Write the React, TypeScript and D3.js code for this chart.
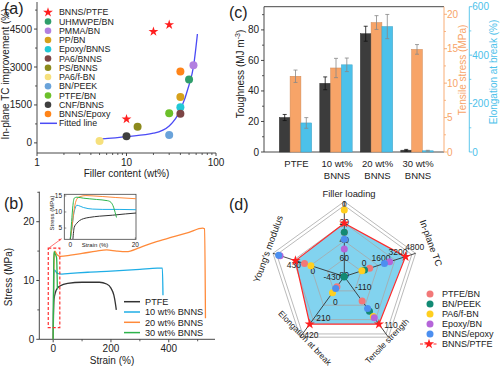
import { useEffect, useRef } from "react";
import * as d3 from "d3";

const FONT = "'Liberation Sans', Arial, Helvetica, sans-serif";
const INK = "#222";

// ---------- (a) in-plane TC improvement vs filler content
const starFiller = [10, 20, 30];
const starTC = [940, 4400, 4670];
const dotNames = ["UHMWPE/BN", "PMMA/BN", "PP/BN", "Epoxy/BNNS", "PA6/BNNS", "PS/BNNS", "PA6/f-BN", "BN/PEEK", "PTFE/BN", "CNF/BNNS", "BNNS/Epoxy"];
const dotColors = ["#2f9e6b", "#b27fe0", "#d6a11c", "#22c8d6", "#7d4545", "#8c8a1c", "#f6e07c", "#6aa3da", "#6cc02a", "#3f3f3f", "#ff8419"];
const dotFiller = [50, 56, 40, 40, 40, 13.3, 5, 30, 30, 10, 40];
const dotTC = [2510, 3070, 1810, 1410, 1150, 640, 70, 310, 1170, 260, 2820];
const fitFiller = [5, 10, 20, 30, 40, 50, 56, 62];
const fitTC = [145, 250, 382, 671, 1303, 2290, 3012, 4303];
const tcTicks = [0, 1500, 3000, 4500];
const fillerTicks = [1, 10, 100];

// ---------- (b) stress-strain curves
const curveNames = ["PTFE", "10 wt% BNNS", "20 wt% BNNS", "30 wt% BNNS"];
const curveColors = ["#333333", "#1faee6", "#ff8a3a", "#2db34b"];
const ptfeStrain = [0, 1, 3, 8, 15, 25, 50, 100, 160, 185, 200, 210, 215, 218.5];
const ptfeStress = [0, 4, 6.8, 8, 8.7, 9.1, 9.5, 9.7, 9.7, 9.4, 8.7, 7.5, 6.2, 5];
const b10Strain = [0, 1, 2, 4, 8, 15, 30, 60, 120, 200, 300, 360, 378, 380];
const b10Stress = [0, 6, 10, 11.8, 11.6, 11.2, 11.1, 11.2, 11.4, 11.6, 11.9, 12.1, 12.1, 7.5];
const b20Strain = [0, 1, 2, 4, 6, 12, 25, 60, 100, 150, 185, 220, 253, 300, 350, 414, 470, 517, 524, 527];
const b20Stress = [0, 5, 10, 14.5, 15, 14.5, 14.1, 14.3, 14.6, 15, 15.2, 15, 14.9, 15.6, 16.5, 17.4, 18.2, 18.9, 18.8, 3.6];
const b30Strain = [0, 1, 2, 3, 6, 10, 12, 13.2, 14, 14.5];
const b30Stress = [0, 7, 13, 14.9, 14.6, 14.2, 13.8, 12, 10, 8.5];
// inset (0-20 % strain)
const inPtfeStrain = [0.8, 1.2, 2, 2.8, 4, 5.8, 9, 13, 17, 20.5];
const inPtfeStress = [1.6, 5.2, 6.5, 7.3, 7.9, 8.3, 8.7, 9.0, 9.4, 9.7];
const in10Strain = [0, 0.5, 1, 1.5, 2, 2.5, 4, 6.9, 10, 15, 20.5];
const in10Stress = [1.6, 5, 9, 11.2, 12.1, 12, 11.4, 10.9, 10.8, 10.8, 10.7];
const in20Strain = [0, 0.5, 1, 1.5, 2, 3, 4.8, 7, 10, 14, 20.5];
const in20Stress = [1.6, 5, 9.5, 12.5, 14, 14.8, 15.1, 15, 14.8, 14.5, 14.1];
const in30Strain = [0, 0.4, 0.8, 1.2, 2, 4, 8, 11.5, 12.5, 13.3, 13.8, 14.2];
const in30Stress = [1.6, 7, 12, 14.3, 14.6, 14.3, 13.9, 13.5, 13, 11.5, 9.8, 8.3];

// ---------- (c) bars
const groups = ["PTFE", "10 wt%|BNNS", "20 wt%|BNNS", "30 wt%|BNNS"];
const toughness = [22.6, 45, 77.5, 1.2];
const toughErr = [2, 4.2, 4.9, 0.5];
const tensile = [11, 12.2, 18.8, 14.9];
const tensileErr = [0.9, 1.4, 1, 0.7];
const elongation = [120, 360, 518, 5];
const elongErr = [22, 28, 50, 2];

// ---------- (d) radar
const radarAxes = ["Filler loading", "In-plane TC", "Tensile strength", "Elongation at break", "Young's modulus"];
const radarLo = [80, -1600, -220, -260, -650];
const radarHi = [0, 4800, 110, 470, 870];
const radarTicks = [[0, 20, 40, 60, 80], [0, 1600, 3200, 4800], [-110, 0, 110], [0, 210, 420], [-430, 0, 430]];
const radarNames = ["PTFE/BN", "BN/PEEK", "PA6/f-BN", "Epoxy/BN", "BNNS/epoxy"];
const radarColors = ["#f27878", "#128a74", "#ffcf1f", "#b565d9", "#4c8ff0"];
const ptfeBN = [30, 800, -79, -131, 245];
const bnPEEK = [30, 316, -21, -255, -650];
const pa6fBN = [5, 67, 10, -54, 102];
const epoxyBN = [49, 2693, 17, null, 796];
const bnnsEpoxy = [38, 2204, -36, -109, 828];
const bnnsPTFE = [20, 4204, 54, 345, 450];

type Sel = d3.Selection<SVGGElement, unknown, null, undefined>;

// rough Arial advance widths, used to right-align labels without text-anchor
const textWidth = (s: string, fs: number) =>
  s.split("").reduce((w, ch) => w + (ch === "-" ? 0.333 : 0.556), 0) * fs;

// vertical axis drawn by hand: side -1 = ticks/labels to the left, 1 = to the right
function vAxis(g: Sel, s: d3.ScaleLinear<number, number>, x: number, majors: number[], minors: number[], side: number,
  color = "#333", fs = 10, pad = 2) {
  const [r0, r1] = s.range();
  g.append("line").attr("x1", x).attr("x2", x).attr("y1", r0).attr("y2", r1).attr("stroke", color).attr("stroke-width", 0.9);
  majors.forEach(v => {
    const label = String(v);
    const lx = side < 0 ? x - 3 - pad - textWidth(label, fs) : x + 3 + pad;
    g.append("line").attr("x1", x).attr("x2", x + side * 3).attr("y1", s(v)).attr("y2", s(v)).attr("stroke", color).attr("stroke-width", 0.9);
    g.append("text").attr("x", lx).attr("y", s(v) + fs * 0.35).attr("font-size", fs)
      .attr("fill", color === "#333" ? INK : color).text(label);
  });
  minors.forEach(v => {
    g.append("line").attr("x1", x).attr("x2", x + side * 2).attr("y1", s(v)).attr("y2", s(v)).attr("stroke", color).attr("stroke-width", 0.8);
  });
}
function hAxis(g: Sel, s: any, y: number, majors: number[], minors: number[], fs = 10) {
  const [r0, r1] = s.range();
  g.append("line").attr("x1", r0).attr("x2", r1).attr("y1", y).attr("y2", y).attr("stroke", "#333").attr("stroke-width", 0.9);
  majors.forEach(v => {
    g.append("line").attr("x1", s(v)).attr("x2", s(v)).attr("y1", y).attr("y2", y + 3).attr("stroke", "#333").attr("stroke-width", 0.9);
    g.append("text").attr("x", s(v)).attr("y", y + 5.5 + fs * 0.72).attr("text-anchor", "middle")
      .attr("font-size", fs).attr("fill", INK).text(String(v));
  });
  minors.forEach(v => {
    g.append("line").attr("x1", s(v)).attr("x2", s(v)).attr("y1", y).attr("y2", y + 2).attr("stroke", "#333").attr("stroke-width", 0.8);
  });
}

function drawA(svg: Sel) {
  const g = svg.append("g");
  const x = d3.scaleLog().domain([1, 100]).range([37, 216]);
  const y = d3.scaleLinear().domain([-400, 5570]).range([153, 2]);

  hAxis(g, x, 153, fillerTicks, [2, 3, 4, 5, 6, 7, 8, 9, 20, 30, 40, 50, 60, 70, 80, 90]);
  vAxis(g, y, 37, tcTicks, [750, 2250, 3750, 5250], -1);

  g.append("text").attr("x", 126.5).attr("y", 177).attr("text-anchor", "middle")
    .attr("font-size", 10).attr("fill", INK).text("Filler content (wt%)");
  g.append("text").attr("transform", "translate(9,74) rotate(-90)").attr("text-anchor", "middle")
    .attr("font-size", 10).attr("fill", INK).text("In-plane TC improvement (%)");

  const line = d3.line<number>().x((_, i) => x(fitFiller[i])).y(d => y(d)).curve(d3.curveMonotoneX);
  g.append("path").attr("d", line(fitTC)).attr("fill", "none").attr("stroke", "#4b4bf5").attr("stroke-width", 1.3);

  dotTC.forEach((v, i) => {
    g.append("circle").attr("cx", x(dotFiller[i])).attr("cy", y(v)).attr("r", 4).attr("fill", dotColors[i]);
  });
  const star = d3.symbol(d3.symbolStar, 30)();
  starTC.forEach((v, i) => {
    g.append("path").attr("d", star).attr("transform", `translate(${x(starFiller[i])},${y(v)})`).attr("fill", "#ff1f1f");
  });

  // legend
  const names = ["BNNS/PTFE", ...dotNames, "Fitted line"];
  names.forEach((n, i) => {
    const yy = 12.3 + i * 9.25;
    if (i === 0) g.append("path").attr("d", star).attr("transform", `translate(48,${yy})`).attr("fill", "#ff1f1f");
    else if (i === names.length - 1) g.append("line").attr("x1", 40).attr("x2", 57).attr("y1", yy).attr("y2", yy).attr("stroke", "#4b4bf5").attr("stroke-width", 1.5);
    else g.append("circle").attr("cx", 48).attr("cy", yy).attr("r", 3.3).attr("fill", dotColors[i - 1]);
    g.append("text").attr("x", 59).attr("y", yy).attr("dy", "0.35em").attr("font-size", 8.8).attr("fill", INK).text(n);
  });
}

function drawB(svg: Sel) {
  const g = svg.append("g");
  const x = d3.scaleLinear().domain([-48, 560]).range([39.3, 215]);
  const y = d3.scaleLinear().domain([0, 25.1]).range([339.3, 191.7]);

  hAxis(g, x, 339.3, [0, 200, 400], [100, 300, 500]);
  vAxis(g, y, 39.3, [0, 10, 20], [5, 15, 25], -1);

  g.append("text").attr("x", 112).attr("y", 363.5).attr("text-anchor", "middle").attr("font-size", 10).attr("fill", INK).text("Strain (%)");
  g.append("text").attr("transform", "translate(12,277) rotate(-90)").attr("text-anchor", "middle").attr("font-size", 10).attr("fill", INK).text("Stress (MPa)");

  const sets: [number[], number[]][] = [[ptfeStrain, ptfeStress], [b10Strain, b10Stress], [b20Strain, b20Stress], [b30Strain, b30Stress]];
  sets.forEach(([sx, sy], k) => {
    const line = d3.line<number>().x((_, i) => x(sx[i])).y(d => y(d)).curve(d3.curveMonotoneX);
    g.append("path").attr("d", line(sy)).attr("fill", "none").attr("stroke", curveColors[k]).attr("stroke-width", 1.3);
  });

  // red dashed zoom box + arrow
  g.append("rect").attr("x", x(-17)).attr("y", y(15.5)).attr("width", x(23) - x(-17)).attr("height", y(2) - y(15.5))
    .attr("fill", "none").attr("stroke", "#ff3030").attr("stroke-width", 1.2).attr("stroke-dasharray", "3,2");
  g.append("line").attr("x1", x(-13)).attr("y1", y(15.6)).attr("x2", x(29)).attr("y2", y(17.1))
    .attr("stroke", "#ff5050").attr("stroke-width", 0.8);
  const ax = x(29), ay = y(17.1);
  g.append("path").attr("d", `M${ax},${ay} l-3.2,0.2 l1.4,2.4 Z`).attr("fill", "#ff5050");

  // inset
  const ix = d3.scaleLinear().domain([-1.85, 20.2]).range([64.3, 136]);
  const iy = d3.scaleLinear().domain([1.5, 15.5]).range([239.3, 194.3]);
  g.append("rect").attr("x", 64.3).attr("y", 194.3).attr("width", 136 - 64.3).attr("height", 239.3 - 194.3)
    .attr("fill", "white").attr("stroke", "#444").attr("stroke-width", 0.8);
  g.append("clipPath").attr("id", "inclip").append("rect").attr("x", 64.3).attr("y", 194.3).attr("width", 136 - 64.3).attr("height", 45);
  const inSets: [number[], number[]][] = [[inPtfeStrain, inPtfeStress], [in10Strain, in10Stress], [in20Strain, in20Stress], [in30Strain, in30Stress]];
  const ig = g.append("g").attr("clip-path", "url(#inclip)");
  inSets.forEach(([sx, sy], k) => {
    const line = d3.line<number>().x((_, i) => ix(sx[i])).y(d => iy(d)).curve(d3.curveMonotoneX);
    ig.append("path").attr("d", line(sy)).attr("fill", "none").attr("stroke", curveColors[k]).attr("stroke-width", 1);
  });
  [5, 10, 15].forEach(v => {
    g.append("line").attr("x1", 64.3).attr("x2", 66.3).attr("y1", iy(v)).attr("y2", iy(v)).attr("stroke", "#444").attr("stroke-width", 0.6);
    g.append("text").attr("x", 62 - textWidth(String(v), 6.5)).attr("y", iy(v) + 2.3).attr("font-size", 6.5).attr("fill", INK).text(v);
  });
  [0, 20].forEach(v => {
    g.append("line").attr("x1", ix(v)).attr("x2", ix(v)).attr("y1", 239.3).attr("y2", 237.3).attr("stroke", "#444").attr("stroke-width", 0.6);
    g.append("text").attr("x", ix(v)).attr("y", 246.5).attr("text-anchor", "middle").attr("font-size", 6.5).attr("fill", INK).text(v);
  });
  g.append("text").attr("x", 95).attr("y", 246.5).attr("text-anchor", "middle").attr("font-size", 6).attr("fill", INK).text("Strain (%)");
  g.append("text").attr("transform", "translate(54,213) rotate(-90)").attr("text-anchor", "middle").attr("font-size", 6).attr("fill", INK).text("Stress (MPa)");

  // legend
  curveNames.forEach((n, i) => {
    const yy = 301.7 + i * 10.3;
    g.append("line").attr("x1", 124).attr("x2", 140).attr("y1", yy).attr("y2", yy).attr("stroke", curveColors[i]).attr("stroke-width", 1.5);
    g.append("text").attr("x", 145).attr("y", yy).attr("dy", "0.35em").attr("font-size", 9.2).attr("fill", INK).text(n);
  });
}

function drawC(svg: Sel) {
  const g = svg.append("g");
  const top = 6.7, bot = 152, L = 264, Rt = 444, Rb = 469.3;
  const yT = d3.scaleLinear().domain([0, 95.2]).range([bot, top]);
  const yS = d3.scaleLinear().domain([0, 21.1]).range([bot, top]);
  const yE = d3.scaleLinear().domain([0, 600]).range([bot, top]);
  const orange = "#f7a468", blue = "#4cc1ea", dark = "#3c3c3c";

  g.append("line").attr("x1", L).attr("x2", Rt).attr("y1", top).attr("y2", top).attr("stroke", "#333").attr("stroke-width", 0.9);
  g.append("line").attr("x1", L).attr("x2", Rt).attr("y1", bot).attr("y2", bot).attr("stroke", "#333").attr("stroke-width", 0.9);

  vAxis(g, yT, L, [0, 20, 40, 60, 80], [10, 30, 50, 70, 90], -1);
  vAxis(g, yS, Rt, [0, 5, 10, 15, 20], [2.5, 7.5, 12.5, 17.5], 1, orange, 10, 0);
  vAxis(g, yE, Rb, [0, 200, 400, 600], [100, 300, 500], 1, blue, 10, 0);

  const tt = g.append("text").attr("transform", "translate(244,74) rotate(-90)").attr("text-anchor", "middle").attr("font-size", 10).attr("fill", INK);
  tt.append("tspan").text("Toughness (MJ m");
  tt.append("tspan").attr("font-size", 7).attr("dy", -4).text("-3");
  tt.append("tspan").attr("dy", 4).text(")");
  g.append("text").attr("transform", "translate(466,70) rotate(-90)").attr("text-anchor", "middle").attr("font-size", 10).attr("fill", orange).text("Tensile stress (MPa)");
  g.append("text").attr("transform", "translate(497,72) rotate(-90)").attr("text-anchor", "middle").attr("font-size", 10).attr("fill", blue).text("Elongation at break (%)");

  const x0 = d3.scaleBand<string>().domain(groups).range([279.3, 433.2]).paddingInner(0.2).paddingOuter(0);
  const x1 = d3.scaleBand<number>().domain([0, 1, 2]).range([0, x0.bandwidth()]);
  const series = [
    { v: toughness, e: toughErr, s: yT, c: dark, ec: "#111" },
    { v: tensile, e: tensileErr, s: yS, c: orange, ec: "#888" },
    { v: elongation, e: elongErr, s: yE, c: blue, ec: "#888" },
  ];
  groups.forEach((grp, gi) => {
    series.forEach((sr, k) => {
      const bx = (x0(grp) || 0) + (x1(k) || 0);
      const w = x1.bandwidth();
      const yv = sr.s(sr.v[gi]);
      g.append("rect").attr("x", bx).attr("y", yv).attr("width", w).attr("height", bot - yv)
        .attr("fill", sr.c).attr("stroke", d3.color(sr.c)!.darker(0.5).toString()).attr("stroke-width", 0.5);
      const y1 = sr.s(sr.v[gi] + sr.e[gi]), y2 = sr.s(Math.max(0, sr.v[gi] - sr.e[gi]));
      const cxm = bx + w / 2;
      g.append("line").attr("x1", cxm).attr("x2", cxm).attr("y1", y1).attr("y2", y2).attr("stroke", sr.ec).attr("stroke-width", 0.8);
      [y1, y2].forEach(yy => g.append("line").attr("x1", cxm - 2).attr("x2", cxm + 2).attr("y1", yy).attr("y2", yy).attr("stroke", sr.ec).attr("stroke-width", 0.8));
    });
    const lines = grp.split("|");
    const t = g.append("text").attr("text-anchor", "middle").attr("font-size", 9.5).attr("fill", INK);
    lines.forEach((ln, li) => t.append("tspan").attr("x", (x0(grp) || 0) + x0.bandwidth() / 2 + 1).attr("y", 166.5 + li * 12.5).text(ln));
  });
}

function drawD(svg: Sel) {
  const g = svg.append("g");
  const cx = 344.3, cy = 276.5, R = 71;
  const ang = (i: number) => (i * 2 * Math.PI) / 5;
  const pt = (i: number, r: number): [number, number] => [cx + r * Math.sin(ang(i)), cy - r * Math.cos(ang(i))];
  const rs = radarAxes.map((_, i) => d3.scaleLinear().domain([radarLo[i], radarHi[i]]).range([0, R]));
  const poly = (rr: number[]) => "M" + rr.map((r, i) => pt(i, r).join(",")).join("L") + "Z";

  const ptfeR = bnnsPTFE.map((v, i) => rs[i](v));
  g.append("path").attr("d", poly(ptfeR)).attr("fill", "#82d3ef");

  [R / 4, R / 2, (3 * R) / 4, R, R + 4].forEach(r => {
    g.append("path").attr("d", poly([r, r, r, r, r])).attr("fill", "none").attr("stroke", "#a8a8a8").attr("stroke-width", 0.8);
  });
  radarAxes.forEach((_, i) => {
    const [px, py] = pt(i, R + 4);
    g.append("line").attr("x1", cx).attr("y1", cy).attr("x2", px).attr("y2", py).attr("stroke", "#333").attr("stroke-width", 0.9);
  });
  g.append("path").attr("d", poly(ptfeR)).attr("fill", "none").attr("stroke", "#ff2a2a").attr("stroke-width", 1.2);

  // tick labels
  const off = [[0, -1], [3, -8], [5, -9], [6, 5], [-2.5, 4]];
  radarTicks.forEach((ticks, i) => {
    ticks.forEach(v => {
      const [px, py] = pt(i, rs[i](v));
      g.append("text").attr("x", px + off[i][0]).attr("y", py + off[i][1]).attr("dy", "0.35em").attr("text-anchor", "middle")
        .attr("font-size", 8.5).attr("fill", INK).text(v);
    });
  });

  const mats = [ptfeBN, bnPEEK, pa6fBN, epoxyBN, bnnsEpoxy];
  mats.forEach((m, k) => {
    m.forEach((v, i) => {
      if (v === null) return;
      const [px, py] = pt(i, rs[i](v));
      g.append("circle").attr("cx", px).attr("cy", py).attr("r", 3.5).attr("fill", radarColors[k]);
    });
  });
  const star = d3.symbol(d3.symbolStar, 32)();
  ptfeR.forEach((r, i) => {
    const [px, py] = pt(i, r);
    g.append("path").attr("d", star).attr("transform", `translate(${px},${py})`).attr("fill", "#ff1f1f");
  });

  // axis titles
  const tpos = [[349, 194, 0, 9.4], [431, 243, 70, 9.4], [387, 341, -46, 8.4], [305, 338, 46, 8.4], [268, 249, -70, 9.4]];
  radarAxes.forEach((n, i) => {
    g.append("text").attr("transform", `translate(${tpos[i][0]},${tpos[i][1]}) rotate(${tpos[i][2]})`)
      .attr("text-anchor", "middle").attr("dy", "0.35em").attr("font-size", tpos[i][3]).attr("fill", INK).text(n);
  });

  // legend
  radarNames.forEach((n, i) => {
    const yy = 294 + i * 10;
    g.append("circle").attr("cx", 430).attr("cy", yy).attr("r", 3.5).attr("fill", radarColors[i]);
    g.append("text").attr("x", 442).attr("y", yy).attr("dy", "0.35em").attr("font-size", 9).attr("fill", INK).text(n);
  });
  const ly = 294 + 5 * 10;
  g.append("line").attr("x1", 420).attr("x2", 438).attr("y1", ly).attr("y2", ly).attr("stroke", "#ff2a2a").attr("stroke-width", 1).attr("stroke-dasharray", "3,1.5");
  g.append("path").attr("d", star).attr("transform", `translate(429,${ly})`).attr("fill", "#ff1f1f");
  g.append("text").attr("x", 442).attr("y", ly).attr("dy", "0.35em").attr("font-size", 9).attr("fill", INK).text("BNNS/PTFE");
}

export default function App() {
  const ref = useRef<SVGSVGElement | null>(null);
  useEffect(() => {
    if (!ref.current) return;
    const root = d3.select(ref.current);
    root.selectAll("*").remove();
    const svg = root.append("g").attr("font-family", FONT) as unknown as Sel;
    svg.append("rect").attr("width", 500).attr("height", 366).attr("fill", "white");
    drawA(svg);
    drawB(svg);
    drawC(svg);
    drawD(svg);
    const labels: [string, number, number][] = [["(a)", 4, 13.5], ["(b)", 4, 209], ["(c)", 229, 18], ["(d)", 229, 210]];
    labels.forEach(([t, x, y]) => svg.append("text").attr("x", x).attr("y", y).attr("font-size", 16).attr("fill", INK).text(t));
  }, []);
  return (
    <svg ref={ref} width={500} height={366} style={{ position: "absolute", left: 0, top: 0, background: "white" }} />
  );
}
